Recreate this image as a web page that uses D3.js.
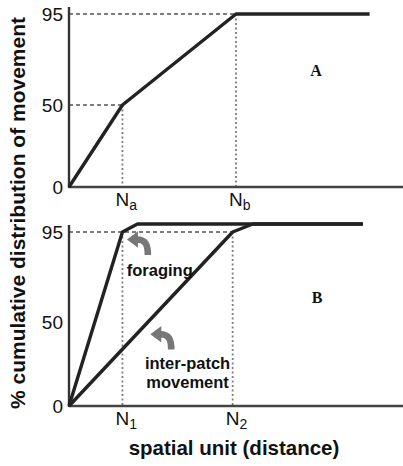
<!DOCTYPE html>
<html>
<head>
<meta charset="utf-8">
<script src="https://cdn.jsdelivr.net/npm/d3@7"></script>
<style>
  body { margin: 0; background: #fff; }
  svg text { font-family: "Liberation Sans", Arial, sans-serif; }
</style>
</head>
<body>
<div id="chart"></div>
<script>
// values
var yTicks = [0, 50, 95];

// panel A
var aX = [0, 16, 50, 90],
    aY = [0, 50, 95, 95],
    aMarks = [16, 50],
    aMarkY = [50, 95],
    aSubs = ["a", "b"];

// panel B
var foragingX = [0, 16, 20.5, 88],
    foragingY = [0, 95, 99, 99],
    interX = [0, 49, 55, 88],
    interY = [0, 95, 99, 99],
    bMarks = [16, 49],
    bSubs = ["1", "2"];

var width = 403, height = 466;

var svg = d3.select("#chart").append("svg")
    .attr("width", width)
    .attr("height", height);

// shared x scale (spatial units)
var x = d3.scaleLinear().domain([0, 100]).range([69, 403]);

// y scales are drawn as sketches, so not evenly spaced
var yA = d3.scaleLinear().domain([0, 50, 95]).range([187, 105, 14]);
var yB = d3.scaleLinear().domain([0, 50, 95]).range([406, 322, 232]);

var line = function(ys) {
  return d3.line()
    .x(function(d) { return x(d[0]); })
    .y(function(d) { return ys(d[1]); });
};

function panel(ys, top, marks, subs, guideY, letter, letterPos) {
  var g = svg.append("g");

  // dashed guides
  marks.forEach(function(m, i) {
    g.append("line")
      .attr("x1", x(0)).attr("x2", x(m))
      .attr("y1", ys(guideY[i])).attr("y2", ys(guideY[i]))
      .attr("stroke", "#7d7d7d").attr("stroke-width", 1.8)
      .attr("stroke-dasharray", "4,3");
    g.append("line")
      .attr("x1", x(m)).attr("x2", x(m))
      .attr("y1", ys(guideY[i])).attr("y2", ys(0))
      .attr("stroke", "#7d7d7d").attr("stroke-width", 1.8)
      .attr("stroke-dasharray", "2,2.5");
  });

  // axes
  g.append("line")
    .attr("x1", x(0)).attr("x2", x(100))
    .attr("y1", ys(0)).attr("y2", ys(0))
    .attr("stroke", "#444").attr("stroke-width", 2.4);
  g.append("line")
    .attr("x1", x(0)).attr("x2", x(0))
    .attr("y1", top).attr("y2", ys(0) + 1)
    .attr("stroke", "#333").attr("stroke-width", 2.4);

  // y tick labels
  g.selectAll(".yt").data(yTicks).enter().append("text")
    .attr("x", x(0) - 6)
    .attr("y", function(d) { return ys(d); })
    .attr("dy", "0.36em")
    .attr("text-anchor", "end")
    .attr("font-size", 19)
    .attr("fill", "#111")
    .text(function(d) { return d; });

  // N labels with subscripts
  marks.forEach(function(m, i) {
    var t = g.append("text")
      .attr("x", x(m) - 7)
      .attr("y", ys(0) + 19)
      .attr("font-size", 19)
      .attr("fill", "#111")
      .text("N");
    t.append("tspan")
      .attr("font-size", 14)
      .attr("dy", 4)
      .text(subs[i]);
  });

  // panel letter
  g.append("text")
    .attr("x", letterPos[0]).attr("y", letterPos[1])
    .attr("text-anchor", "middle")
    .style("font-family", "'Liberation Serif', 'Times New Roman', serif")
    .attr("font-weight", "bold")
    .attr("font-size", 16)
    .attr("fill", "#111")
    .text(letter);

  return g;
}

var gA = panel(yA, 7, aMarks, aSubs, aMarkY, "A", [316, 76]);
var gB = panel(yB, 225, bMarks, bSubs, [95, 95], "B", [317, 303]);

// curves
gA.append("path")
  .datum(d3.zip(aX, aY))
  .attr("d", line(yA))
  .attr("fill", "none")
  .attr("stroke", "#222")
  .attr("stroke-width", 3.4)
  .attr("stroke-linejoin", "round");

[[foragingX, foragingY], [interX, interY]].forEach(function(s) {
  gB.append("path")
    .datum(d3.zip(s[0], s[1]))
    .attr("d", line(yB))
    .attr("fill", "none")
    .attr("stroke", "#222")
    .attr("stroke-width", 3.4)
    .attr("stroke-linejoin", "round");
});

// curved gray arrows
function arrow(cx, cy) {
  var a = gB.append("g").attr("transform", "translate(" + cx + "," + cy + ") scale(1.1)");
  a.append("path")
    .attr("d", "M14,19 C14,10 12,5 4,5")
    .attr("fill", "none")
    .attr("stroke", "#777")
    .attr("stroke-width", 6);
  a.append("path")
    .attr("d", "M-5,5 L5,-2.5 L5,12.5 Z")
    .attr("fill", "#777");
}
arrow(x(19), yB(94));
arrow(x(26), yB(46));

// annotations
gB.append("text")
  .attr("x", x(17.3)).attr("y", yB(73))
  .attr("font-size", 16.5).attr("font-weight", "bold").attr("fill", "#111")
  .text("foraging");
gB.append("text")
  .attr("x", x(35.5)).attr("y", yB(22))
  .attr("text-anchor", "middle")
  .attr("font-size", 16.5).attr("font-weight", "bold").attr("fill", "#111")
  .text("inter-patch");
gB.append("text")
  .attr("x", x(35.5)).attr("y", yB(11))
  .attr("text-anchor", "middle")
  .attr("font-size", 16.5).attr("font-weight", "bold").attr("fill", "#111")
  .text("movement");

// axis titles
svg.append("text")
  .attr("transform", "translate(25,213) rotate(-90)")
  .attr("text-anchor", "middle")
  .attr("font-size", 21).attr("font-weight", "bold").attr("fill", "#111")
  .text("% cumulative distribution of movement");

svg.append("text")
  .attr("x", 234).attr("y", 455)
  .attr("text-anchor", "middle")
  .attr("font-size", 20.5).attr("font-weight", "bold").attr("fill", "#111")
  .text("spatial unit (distance)");
</script>
</body>
</html>
